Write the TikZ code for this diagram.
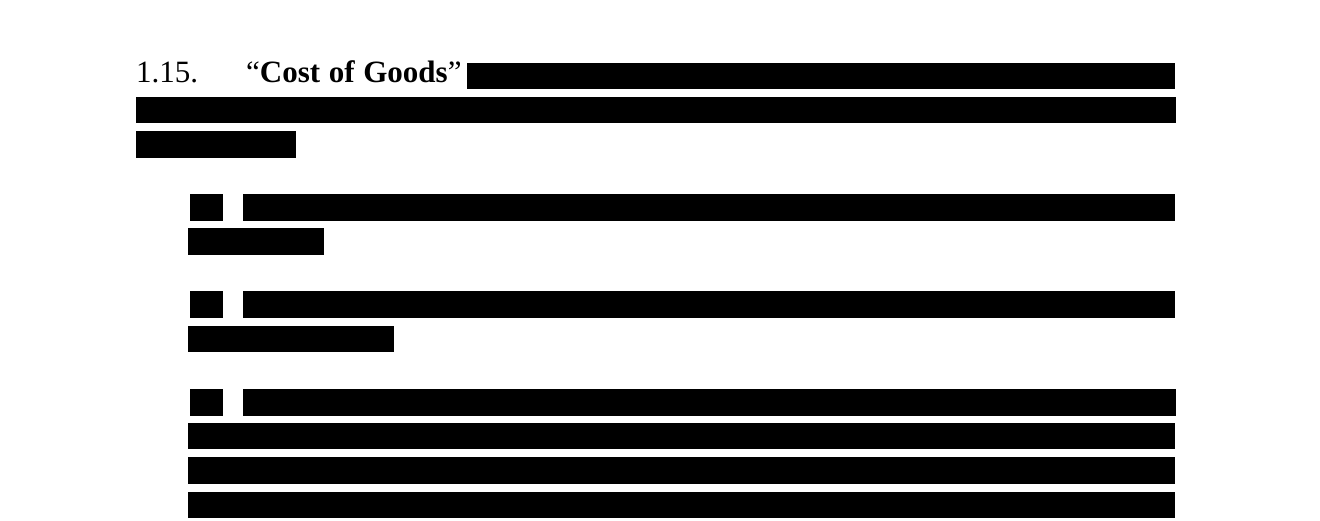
\documentclass[tikz,border=0pt]{standalone}
\usepackage{fontspec}
\setmainfont{Liberation Serif}

\begin{document}
\begin{tikzpicture}[x=1pt,y=-1pt,
    redact/.style={fill=black},
    txt/.style={anchor=base west, inner sep=0pt, font=\fontsize{31}{36}\selectfont}]

\useasboundingbox (0,0) rectangle (1320,520);
\node  [txt] (num) at (136,82){1.15.};
\node  [txt] (term) at (246,82){``\textbf{Cost\hspace{0.03em} of\hspace{0.03em} Goods}''};
\fill[redact] (467,63) rectangle (1175,89);
\fill[redact] (136,97) rectangle (1176,123);
\fill[redact] (136,131) rectangle (296,158);
% item (a)
\fill[redact] (190,194) rectangle (223,221);
\fill[redact] (243,194) rectangle (1175,221);
\fill[redact] (188,228) rectangle (324,255);
% item (b)
\fill[redact] (190,291) rectangle (223,318);
\fill[redact] (243,291) rectangle (1175,318);
\fill[redact] (188,326) rectangle (394,352);
% item (c)
\fill[redact] (190,389) rectangle (223,416);
\fill[redact] (243,389) rectangle (1176,416);
\fill[redact] (188,423) rectangle (1175,449);
\fill[redact] (188,457) rectangle (1175,484);
\fill[redact] (188,492) rectangle (1175,518);
\end{tikzpicture}
\end{document}
